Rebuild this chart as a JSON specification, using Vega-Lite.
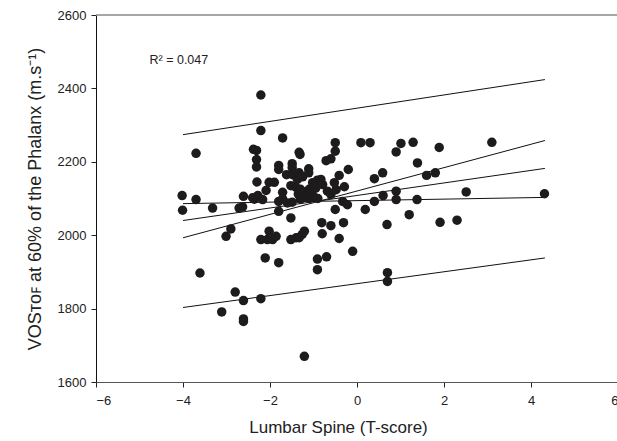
{
  "$schema": "https://vega.github.io/schema/vega-lite/v6.json",
  "width": 522,
  "height": 367,
  "autosize": "none",
  "padding": {"left": 96, "top": 15, "right": 0, "bottom": 59},
  "background": "white",
  "config": {
    "view": {"stroke": null},
    "axis": {
      "grid": false,
      "labelFont": "Liberation Sans",
      "labelFontSize": 13,
      "labelColor": "#222",
      "titleFont": "Liberation Sans",
      "titleFontSize": 17,
      "titleFontWeight": "normal",
      "titleColor": "#222",
      "tickColor": "#222",
      "tickSize": 5
    }
  },
  "datasets": {
    "pts": [
      {"x": -4.02, "y": 2108}, {"x": -4.01, "y": 2068}, {"x": -3.70, "y": 2097}, {"x": -3.70, "y": 2223},
      {"x": -3.61, "y": 1897}, {"x": -3.32, "y": 2074}, {"x": -3.11, "y": 1791}, {"x": -3.01, "y": 1997},
      {"x": -2.90, "y": 2017}, {"x": -2.80, "y": 1845}, {"x": -2.71, "y": 2074}, {"x": -2.63, "y": 2077},
      {"x": -2.61, "y": 2106}, {"x": -2.61, "y": 1822}, {"x": -2.61, "y": 1772}, {"x": -2.61, "y": 1765},
      {"x": -2.40, "y": 2102}, {"x": -2.36, "y": 2098}, {"x": -2.28, "y": 2108}, {"x": -2.17, "y": 2097},
      {"x": -2.38, "y": 2234}, {"x": -2.31, "y": 2231}, {"x": -2.31, "y": 2206}, {"x": -2.31, "y": 2186},
      {"x": -2.30, "y": 2145}, {"x": -2.21, "y": 2382}, {"x": -2.21, "y": 2285}, {"x": -2.21, "y": 1827},
      {"x": -2.21, "y": 1988}, {"x": -2.11, "y": 1938}, {"x": -2.09, "y": 2122}, {"x": -2.06, "y": 1988},
      {"x": -2.02, "y": 2011}, {"x": -2.02, "y": 2144}, {"x": -1.94, "y": 1988}, {"x": -1.90, "y": 2144},
      {"x": -1.86, "y": 1997}, {"x": -1.80, "y": 2190}, {"x": -1.80, "y": 2179}, {"x": -1.80, "y": 2092},
      {"x": -1.80, "y": 2065}, {"x": -1.80, "y": 1925}, {"x": -1.71, "y": 2265}, {"x": -1.71, "y": 2117},
      {"x": -1.71, "y": 2099}, {"x": -1.62, "y": 2165}, {"x": -1.60, "y": 2088}, {"x": -1.52, "y": 2135},
      {"x": -1.52, "y": 2047}, {"x": -1.52, "y": 1988}, {"x": -1.49, "y": 2195}, {"x": -1.49, "y": 2184},
      {"x": -1.49, "y": 2090}, {"x": -1.48, "y": 2165}, {"x": -1.40, "y": 1993}, {"x": -1.37, "y": 2152},
      {"x": -1.33, "y": 2226}, {"x": -1.31, "y": 2220}, {"x": -1.33, "y": 2170}, {"x": -1.25, "y": 2159},
      {"x": -1.40, "y": 2130}, {"x": -1.30, "y": 2125}, {"x": -1.20, "y": 2118}, {"x": -1.15, "y": 2110},
      {"x": -1.25, "y": 2105}, {"x": -1.35, "y": 2112}, {"x": -1.10, "y": 2125}, {"x": -1.05, "y": 2115},
      {"x": -1.00, "y": 2105}, {"x": -1.30, "y": 2098}, {"x": -1.10, "y": 2100}, {"x": -1.11, "y": 2181},
      {"x": -1.11, "y": 2170}, {"x": -1.21, "y": 2011}, {"x": -1.26, "y": 2002}, {"x": -1.33, "y": 1993},
      {"x": -1.21, "y": 1670}, {"x": -1.02, "y": 2143}, {"x": -0.95, "y": 2128}, {"x": -0.91, "y": 2150},
      {"x": -0.90, "y": 2100}, {"x": -0.91, "y": 1935}, {"x": -0.91, "y": 1906}, {"x": -0.83, "y": 2152},
      {"x": -0.79, "y": 2138}, {"x": -0.81, "y": 2034}, {"x": -0.80, "y": 2004}, {"x": -0.71, "y": 2203},
      {"x": -0.70, "y": 1941}, {"x": -0.68, "y": 2120}, {"x": -0.60, "y": 2208}, {"x": -0.60, "y": 2111},
      {"x": -0.60, "y": 2026}, {"x": -0.52, "y": 2143}, {"x": -0.50, "y": 2252}, {"x": -0.50, "y": 2229},
      {"x": -0.50, "y": 2070}, {"x": -0.48, "y": 2124}, {"x": -0.41, "y": 2163}, {"x": -0.41, "y": 1991},
      {"x": -0.33, "y": 2092}, {"x": -0.31, "y": 2034}, {"x": -0.29, "y": 2132}, {"x": -0.22, "y": 2083},
      {"x": -0.20, "y": 2179}, {"x": -0.10, "y": 1956}, {"x": 0.09, "y": 2252}, {"x": 0.19, "y": 2070},
      {"x": 0.30, "y": 2252}, {"x": 0.40, "y": 2154}, {"x": 0.40, "y": 2092}, {"x": 0.59, "y": 2170},
      {"x": 0.60, "y": 2108}, {"x": 0.69, "y": 2029}, {"x": 0.70, "y": 1898}, {"x": 0.70, "y": 1874},
      {"x": 0.90, "y": 2227}, {"x": 0.90, "y": 2120}, {"x": 0.90, "y": 2097}, {"x": 1.01, "y": 2250},
      {"x": 1.20, "y": 2056}, {"x": 1.29, "y": 2253}, {"x": 1.38, "y": 2097}, {"x": 1.39, "y": 2197},
      {"x": 1.60, "y": 2163}, {"x": 1.80, "y": 2170}, {"x": 1.89, "y": 2239}, {"x": 1.91, "y": 2035},
      {"x": 2.30, "y": 2041}, {"x": 2.51, "y": 2118}, {"x": 3.10, "y": 2253}, {"x": 4.31, "y": 2113}
    ],
    "lines": [
      {"s": "pu", "x": -4, "y": 2274}, {"s": "pu", "x": 4.32, "y": 2424},
      {"s": "pl", "x": -4, "y": 1803}, {"s": "pl", "x": 4.32, "y": 1938},
      {"s": "a", "x": -4, "y": 2086}, {"s": "a", "x": 4.32, "y": 2103},
      {"s": "b", "x": -4, "y": 2040}, {"s": "b", "x": 4.32, "y": 2182},
      {"s": "c", "x": -4, "y": 1993}, {"s": "c", "x": 4.32, "y": 2258}
    ],
    "ann": [{"x": -4.77, "y": 2477, "t": "R² = 0.047"}]
  },
  "layer": [
    {
      "data": {"name": "lines"},
      "mark": {"type": "line", "color": "#111", "strokeWidth": 1},
      "encoding": {
        "x": {"field": "x", "type": "quantitative", "scale": {"domain": [-6, 6], "nice": false, "zero": false},
              "axis": {"title": "Lumbar Spine (T-score)", "values": [-6, -4, -2, 0, 2, 4, 6], "domainColor": "#555", "labelPadding": 7, "titlePadding": 12, "titleX": 242}},
        "y": {"field": "y", "type": "quantitative", "scale": {"domain": [1600, 2600], "nice": false, "zero": false},
              "axis": {"title": "VOSᴛᴏꜰ at 60% of the Phalanx (m.s⁻¹)", "format": "d", "values": [1600, 1800, 2000, 2200, 2400, 2600], "domainColor": "#111", "labelPadding": 5, "titlePadding": 13, "titleFontSize": 18}},
        "detail": {"field": "s"}
      }
    },
    {
      "data": {"name": "pts"},
      "mark": {"type": "circle", "size": 90, "opacity": 1, "color": "#1e1b1c"},
      "encoding": {
        "x": {"field": "x", "type": "quantitative"},
        "y": {"field": "y", "type": "quantitative"}
      }
    },
    {
      "data": {"name": "ann"},
      "mark": {"type": "text", "align": "left", "baseline": "middle", "font": "Liberation Sans", "fontSize": 12.5, "color": "#222"},
      "encoding": {
        "x": {"field": "x", "type": "quantitative"},
        "y": {"field": "y", "type": "quantitative"},
        "text": {"field": "t"}
      }
    },
    {
      "data": {"values": [{"y": 2600}]},
      "mark": {"type": "rule", "color": "#888", "strokeWidth": 1.5},
      "encoding": {"y": {"field": "y", "type": "quantitative"}}
    }
  ]
}
